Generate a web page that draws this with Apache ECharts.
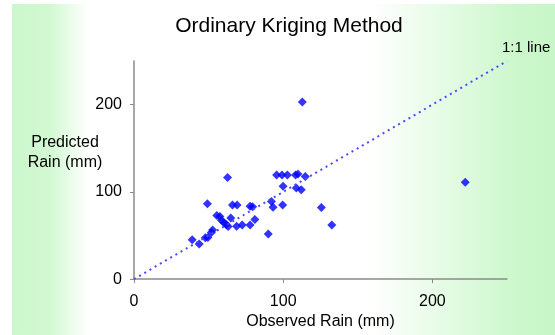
<!DOCTYPE html>
<html>
<head>
<meta charset="utf-8">
<script src="https://cdn.jsdelivr.net/npm/echarts@6/dist/echarts.min.js"></script>
<style>
html,body{margin:0;padding:0;background:#fff;}
#main{width:555px;height:335px;}
</style>
</head>
<body>
<div id="main"></div>
<script>
const titleText = "Ordinary Kriging Method";
const xAxisName = "Observed Rain (mm)";
const yAxisName = "Predicted\nRain (mm)";
const lineLabel = "1:1 line";
const axisMin = 0, axisMax = 250, axisStep = 100;

const observed = [39, 43.7, 47.8, 49.5, 51.8, 52.7, 49.2, 55.5, 57.6, 58.6, 60.2, 61.8, 63.1, 62.7, 64.9, 66, 69.1, 68.8, 72.5, 77.8, 79.5, 77.8, 81, 90, 92.1, 93.2, 95.6, 99.2, 102.8, 99.9, 99.6, 108.3, 109.9, 108.8, 112.1, 112.8, 114.8, 125.6, 132.6, 222];
const predicted = [45.1, 40.2, 47.3, 47.8, 53.4, 56.4, 86.5, 72.8, 71.8, 67.6, 65, 62.5, 60.2, 116.6, 70, 84.8, 84.8, 60.7, 62, 83.4, 83, 62, 68.4, 51.7, 89, 82.4, 119.2, 119.2, 119.2, 106.4, 84.8, 119.2, 120.6, 104.5, 102.3, 203, 117.7, 82, 62, 111];
const oneToOne = [[0, 0], [250, 250]];

const chart = echarts.init(document.getElementById('main'));
const font = 'Liberation Sans, Arial, sans-serif';
chart.setOption({
  backgroundColor: 'transparent',
  animation: false,
  graphic: [{
    type: 'rect', z: -10, silent: true,
    shape: {x: 12, y: 4, width: 543, height: 331},
    style: {
      fill: new echarts.graphic.LinearGradient(0, 0, 1, 0, [
        {offset: 0, color: '#ccf7cc'},
        {offset: 0.07, color: '#d2f8d2'},
        {offset: 0.14, color: '#ffffff'},
        {offset: 0.66, color: '#ffffff'},
        {offset: 0.8, color: '#e4fbe4'},
        {offset: 0.93, color: '#ccf7cc'},
        {offset: 1, color: '#c8f6c8'}
      ])
    }
  }, {
    type: 'text', z: 10, silent: true,
    style: {text: yAxisName, x: 65, y: 133, font: '16px ' + font, fill: '#000', align: 'center', verticalAlign: 'top', lineHeight: 20}
  }],
  title: {
    text: titleText, left: 284, top: 11, textAlign: 'center',
    textStyle: {fontFamily: font, fontSize: 21, fontWeight: 'normal', color: '#000'}
  },
  grid: {left: 134, right: 48, top: 61, bottom: 53, containLabel: false},
  xAxis: {
    type: 'value', min: axisMin, max: axisMax, interval: axisStep,
    name: xAxisName, nameLocation: 'middle', nameGap: 32,
    nameTextStyle: {fontFamily: font, fontSize: 16, color: '#000'},
    axisLine: {show: true, lineStyle: {color: '#8a8a8a', width: 1.5}},
    axisTick: {show: true, length: 4, lineStyle: {color: '#8a8a8a'}},
    axisLabel: {fontFamily: font, fontSize: 16, color: '#000', margin: 14, showMaxLabel: false},
    splitLine: {show: false}
  },
  yAxis: {
    type: 'value', min: axisMin, max: axisMax, interval: axisStep,
    axisLine: {show: true, lineStyle: {color: '#8a8a8a', width: 1.5}},
    axisTick: {show: true, length: 4, lineStyle: {color: '#8a8a8a'}},
    axisLabel: {fontFamily: font, fontSize: 16, color: '#000', margin: 12, showMaxLabel: false},
    splitLine: {show: false}
  },
  series: [{
    type: 'line', data: oneToOne, symbol: 'none', silent: true,
    lineStyle: {color: '#4a4aff', width: 2, type: [2, 4]},
    endLabel: {show: true, formatter: lineLabel, fontFamily: font, fontSize: 15, color: '#000', offset: [-13, -13]}
  }, {
    type: 'scatter', symbol: 'diamond', symbolSize: 9,
    itemStyle: {color: '#0000ff'},
    data: observed.map((v, i) => [v, predicted[i]])
  }]
});
</script>
</body>
</html>
